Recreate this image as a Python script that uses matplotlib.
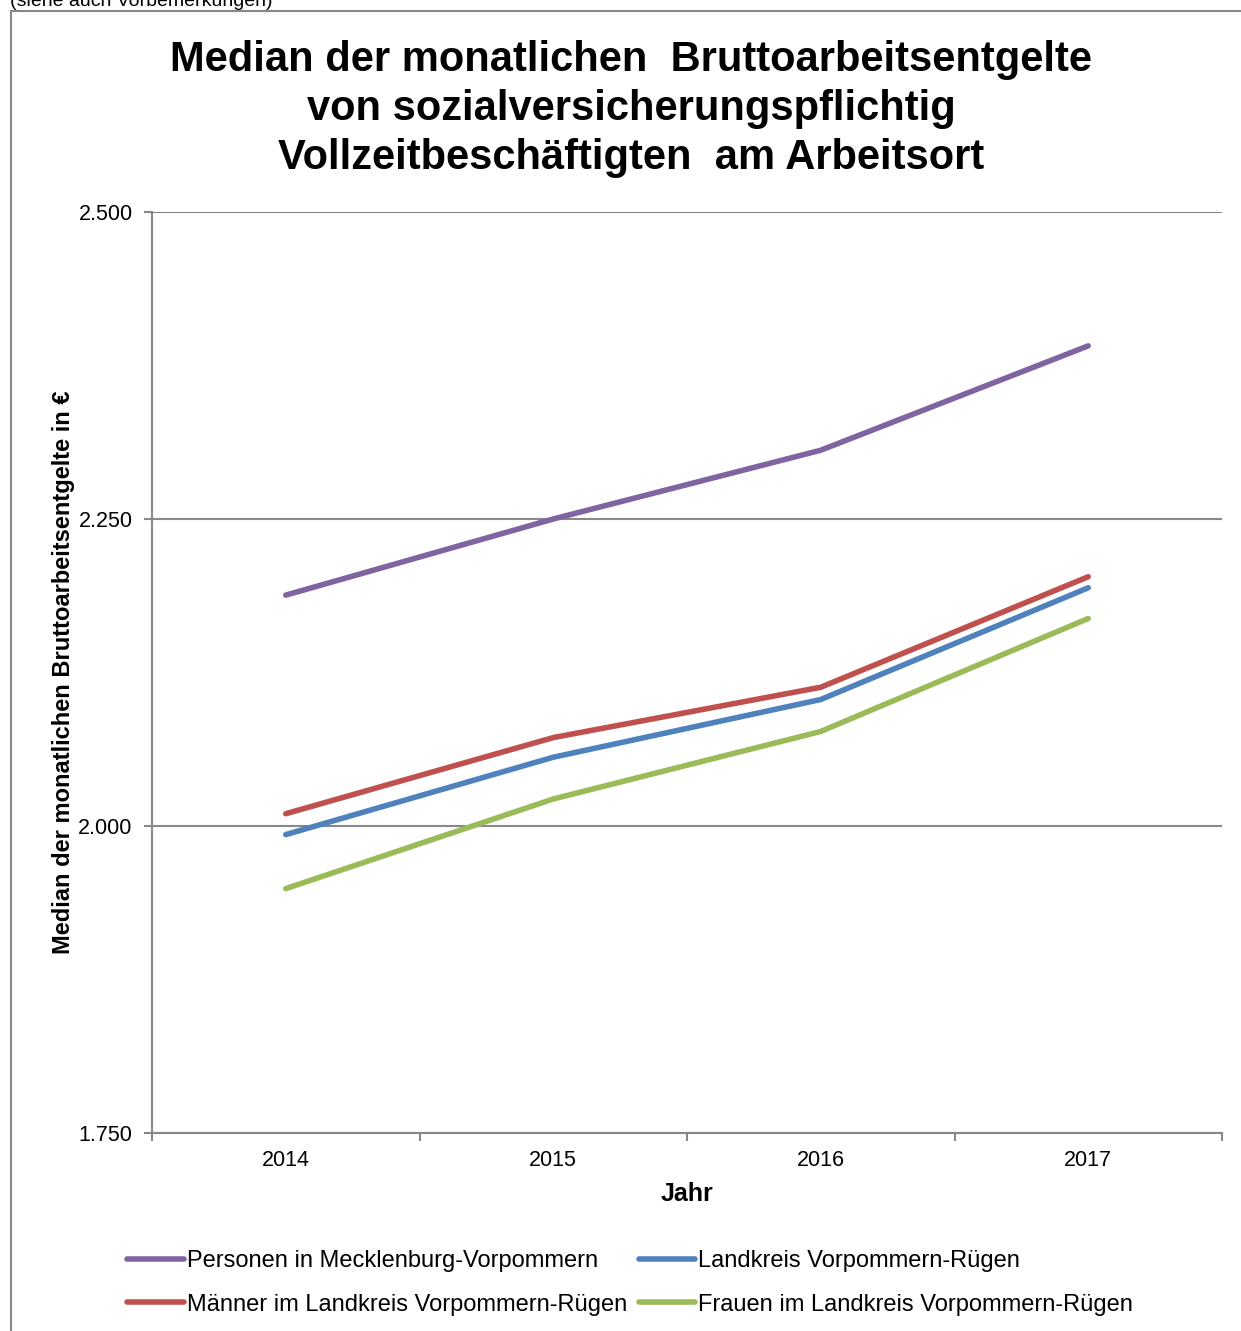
import matplotlib
matplotlib.use("Agg")
import matplotlib.pyplot as plt
from matplotlib.patches import Rectangle
from matplotlib.ticker import FixedLocator, FuncFormatter

years = ["2014", "2015", "2016", "2017"]
series_names = [
    "Personen in Mecklenburg-Vorpommern",
    "Landkreis Vorpommern-Rügen",
    "Männer im Landkreis Vorpommern-Rügen",
    "Frauen im Landkreis Vorpommern-Rügen",
]
mv_personen = [2188, 2250, 2306, 2391]
vr_landkreis = [1993, 2056, 2103, 2194]
vr_maenner = [2010, 2072, 2113, 2203]
vr_frauen = [1949, 2022, 2077, 2169]
colors = ["#8064A2", "#4F81BD", "#C0504D", "#9BBB59"]
yticks = [1750, 2000, 2250, 2500]

plt.rcParams['font.family'] = ['Liberation Sans', 'DejaVu Sans']

W, H = 1241, 1331
fig = plt.figure(figsize=(W / 100, H / 100), dpi=100)

# outer frame
fig.patches.append(Rectangle((11 / W, -0.01), 1.2, (H - 11) / H + 0.01,
                             transform=fig.transFigure, fill=False,
                             edgecolor="#888888", linewidth=1.5))
fig.text(10 / W, 1 - 2 / H, "(siehe auch Vorbemerkungen)", fontsize=14,
         ha="left", va="center")

fig.text(631 / W, 1 - 109 / H,
         "Median der monatlichen  Bruttoarbeitsentgelte\nvon sozialversicherungspflichtig\nVollzeitbeschäftigten  am Arbeitsort",
         ha="center", va="center", fontsize=30, fontweight="bold", linespacing=1.29)

ax = fig.add_axes([152 / W, 1 - 1133 / H, (1222 - 152) / W, (1133 - 212) / H])
x = list(range(len(years)))
data = [mv_personen, vr_landkreis, vr_maenner, vr_frauen]
handles = []
for name, vals, c in zip(series_names, data, colors):
    h, = ax.plot(x, vals, color=c, linewidth=4, solid_capstyle="round",
                 solid_joinstyle="round", label=name)
    handles.append(h)

ax.set_xlim(-0.5, len(years) - 0.5)
ax.set_ylim(1750, 2500)
ax.yaxis.set_major_locator(FixedLocator(yticks))
ax.yaxis.set_major_formatter(FuncFormatter(lambda v, p: f"{int(v):,}".replace(",", ".")))
ax.set_xticks(x)
ax.set_xticklabels(years)
ax.xaxis.set_minor_locator(FixedLocator([i - 0.5 for i in range(len(years) + 1)]))
ax.tick_params(axis="x", which="major", length=0, pad=12, labelsize=15.5)
ax.tick_params(axis="x", which="minor", length=6, color="#888888", width=1.5, direction="out")
ax.tick_params(axis="y", length=6, color="#888888", width=1.5, labelsize=15.5, pad=8)
ax.grid(axis="y", color="#888888", linewidth=1.5)
ax.set_axisbelow(True)
for s in ["top", "right"]:
    ax.spines[s].set_visible(False)
for s in ["left", "bottom"]:
    ax.spines[s].set_color("#888888")
    ax.spines[s].set_linewidth(1.5)

ax.set_xlabel("Jahr", fontsize=18, fontweight="bold", labelpad=8)
ax.set_ylabel("Median der monatlichen Bruttoarbeitsentgelte in €", fontsize=17,
              fontweight="bold", labelpad=2)

leg = fig.legend([handles[i] for i in [0, 2, 1, 3]],
                 [series_names[i] for i in [0, 2, 1, 3]],
                 ncol=2, loc="center left", bbox_to_anchor=(106 / W, 1 - 1283 / H),
                 frameon=False, fontsize=17, handlelength=2.4, handletextpad=0.12,
                 columnspacing=0.5, labelspacing=0.9)

fig.savefig("out.png", dpi=100)
